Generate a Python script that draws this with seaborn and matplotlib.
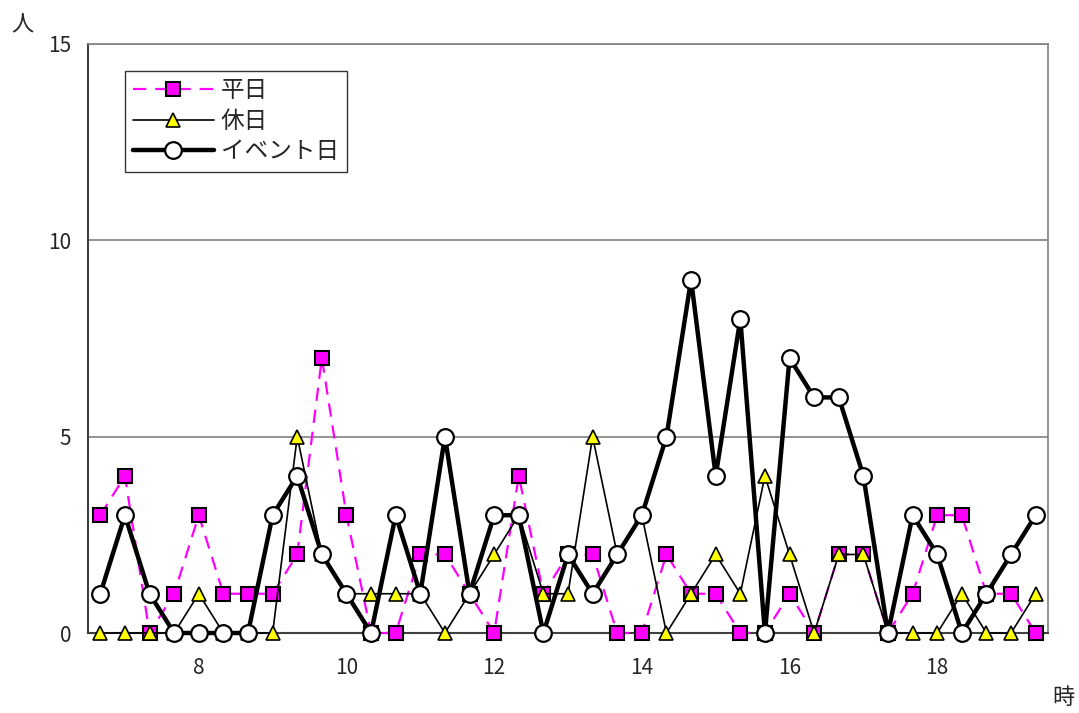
import numpy as np
import pandas as pd
import matplotlib
matplotlib.use('Agg')
import matplotlib.pyplot as plt
import seaborn as sns

# ========== ДАННЫЕ ==========
times = ['6:40', '7:00', '7:20', '7:40', '8:00', '8:20', '8:40', '9:00', '9:20', '9:40',
         '10:00', '10:20', '10:40', '11:00', '11:20', '11:40', '12:00', '12:20', '12:40', '13:00',
         '13:20', '13:40', '14:00', '14:20', '14:40', '15:00', '15:20', '15:40', '16:00', '16:20',
         '16:40', '17:00', '17:20', '17:40', '18:00', '18:20', '18:40', '19:00', '19:20']
weekday = [3, 4, 0, 1, 3, 1, 1, 1, 2, 7, 3, 0, 0, 2, 2, 1, 0, 4, 1, 2,
           2, 0, 0, 2, 1, 1, 0, 0, 1, 0, 2, 2, 0, 1, 3, 3, 1, 1, 0]
holiday = [0, 0, 0, 0, 1, 0, 0, 0, 5, 2, 1, 1, 1, 1, 0, 1, 2, 3, 1, 1,
           5, 2, 3, 0, 1, 2, 1, 4, 2, 0, 2, 2, 0, 0, 0, 1, 0, 0, 1]
event = [1, 3, 1, 0, 0, 0, 0, 3, 4, 2, 1, 0, 3, 1, 5, 1, 3, 3, 0, 2,
         1, 2, 3, 5, 9, 4, 8, 0, 7, 6, 6, 4, 0, 3, 2, 0, 1, 2, 3]
x_ticks = [8, 10, 12, 14, 16, 18]
y_ticks = [0, 5, 10, 15]

hours = [int(t.split(':')[0]) + int(t.split(':')[1]) / 60 for t in times]
df = pd.DataFrame({'時': hours, '平日': weekday, '休日': holiday, 'イベント日': event})

sns.set_style('white')
plt.rcParams['font.family'] = ['Noto Sans CJK JP', 'DejaVu Sans']

fig = plt.figure(figsize=(10.79, 7.13), dpi=100)
ax = fig.add_axes([88 / 1079, 1 - 633 / 713, 960 / 1079, 589 / 713])

sns.lineplot(data=df, x='時', y='平日', ax=ax, color='#FF00FF', linewidth=1.6,
             linestyle=(0, (6, 4)), marker='s', markersize=9.5, markerfacecolor='#FF00FF',
             markeredgecolor='black', markeredgewidth=1.5, zorder=3, label='平日')
sns.lineplot(data=df, x='時', y='休日', ax=ax, color='black', linewidth=1.2,
             marker='^', markersize=10, markerfacecolor='#FFFF00',
             markeredgecolor='black', markeredgewidth=1.2, zorder=4, label='休日')
sns.lineplot(data=df, x='時', y='イベント日', ax=ax, color='black', linewidth=3.2,
             marker='o', markersize=12, markerfacecolor='white',
             markeredgecolor='black', markeredgewidth=1.6, zorder=5, label='イベント日')
for ln in ax.lines:
    ln.set_clip_on(False)

ax.set_xlim(6.5, 19.5)
ax.set_ylim(0, 15)
ax.set_xticks(x_ticks)
ax.set_xticklabels([str(v) for v in x_ticks], fontsize=15)
ax.set_xticks(np.arange(6.5, 19.51, 1 / 3), minor=True)
ax.set_yticks(y_ticks)
ax.set_yticklabels([str(v) for v in y_ticks], fontsize=15)
ax.tick_params(axis='x', which='major', length=0, pad=17)
ax.tick_params(axis='x', which='minor', direction='in', length=6, width=1, color='#404040')
ax.tick_params(axis='y', direction='in', length=6, width=1.5, color='#404040', pad=12)
ax.set_xlabel('')
ax.set_ylabel('')

ax.yaxis.grid(True, color='#808080', linewidth=1.2)
ax.set_axisbelow(True)
for side in ['top', 'right']:
    ax.spines[side].set_color('#808080')
    ax.spines[side].set_linewidth(1.2)
for side in ['left', 'bottom']:
    ax.spines[side].set_color('#404040')
    ax.spines[side].set_linewidth(1.5)

fig.text(22 / 1079, 1 - 25 / 713, '人', fontsize=16, ha='center', va='center')
fig.text(1063 / 1079, 1 - 697 / 713, '時', fontsize=16, ha='center', va='center')

leg = ax.legend(loc='upper left', bbox_to_anchor=(37 / 960, 1 - 27 / 589), borderaxespad=0,
                fancybox=False, frameon=True, edgecolor='black', fontsize=17,
                handlelength=3.4, handletextpad=0.3, labelspacing=0.32, borderpad=0.35)
leg.get_frame().set_linewidth(1.0)

plt.savefig('out.png', dpi=100)
